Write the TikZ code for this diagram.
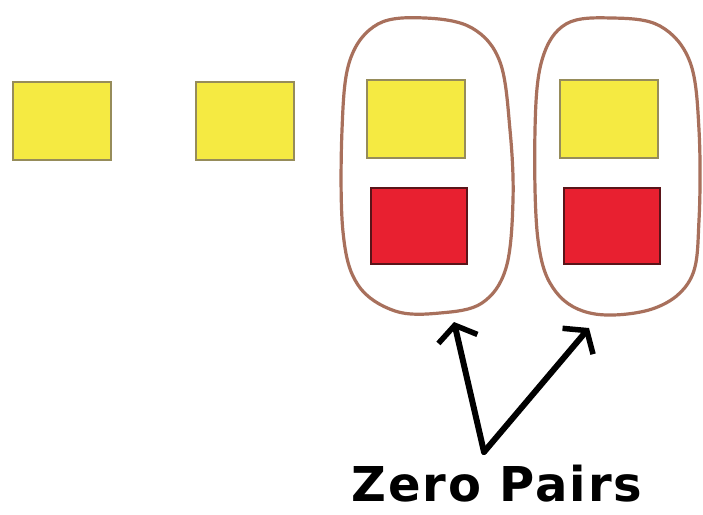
\documentclass[tikz,border=0pt]{standalone}
\usepackage{fontspec}
\setmainfont{DejaVu Sans}
\newfontfamily\lblfont[LetterSpace=4]{DejaVu Sans}
\usetikzlibrary{arrows.meta}
\definecolor{tileyellow}{RGB}{245,234,66}
\definecolor{tileyedge}{RGB}{150,140,90}
\definecolor{tilered}{RGB}{232,32,48}
\definecolor{tilerededge}{RGB}{90,20,25}
\definecolor{loopbrown}{RGB}{168,112,92}
\tikzset{
  ytile/.style={draw=tileyedge, fill=tileyellow, line width=2.6pt, minimum width=98pt, minimum height=78pt, inner sep=0pt},
  rtile/.style={draw=tilerededge, fill=tilered, line width=2.6pt, minimum width=96pt, minimum height=76pt, inner sep=0pt},
  loop/.style={draw=loopbrown, line width=3.2pt},
  pointer/.style={draw=black, line width=6pt, line cap=round, -{Straight Barb[length=14pt, width=40pt, line width=5.5pt]}}
}
\begin{document}
\begin{tikzpicture}[x=1pt, y=-1pt]
\useasboundingbox (0,0) rectangle (703,514);
\fill[white] (0,0) rectangle (703,514);
% loops
\draw[loop] plot[smooth cycle, tension=0.6] coordinates {(350,60) (378,24) (425,18) (472,28) (500,62) (510,130) (513,200) (506,268) (482,303) (440,313) (395,311) (358,285) (343,232) (342,130)};
\draw[loop] plot[smooth cycle, tension=0.6] coordinates {(542,60) (566,24) (612,18) (660,26) (690,62) (699,130) (699,220) (691,278) (655,308) (595,314) (556,292) (538,240) (535,130)};
% tiles
\node[ytile] (y1) at (62,121) {};
\node[ytile] (y2) at (245,121) {};
\node[ytile] (y3) at (416,119) {};
\node[ytile] (y4) at (609,119) {};
\node[rtile] (r3) at (419,226) {};
\node[rtile] (r4) at (612,226) {};
% arrows
\coordinate (v) at (484,452);
\coordinate (t1) at (454,322);
\coordinate (t2) at (589,328);
\draw[pointer] (v) -- (t1);
\draw[pointer] (v) -- (t2);
% label
\node[anchor=base, font=\lblfont\fontsize{48}{48}\selectfont\bfseries, inner sep=0pt] (lbl) at (497,501) {Zero Pairs};
\end{tikzpicture}
\end{document}
